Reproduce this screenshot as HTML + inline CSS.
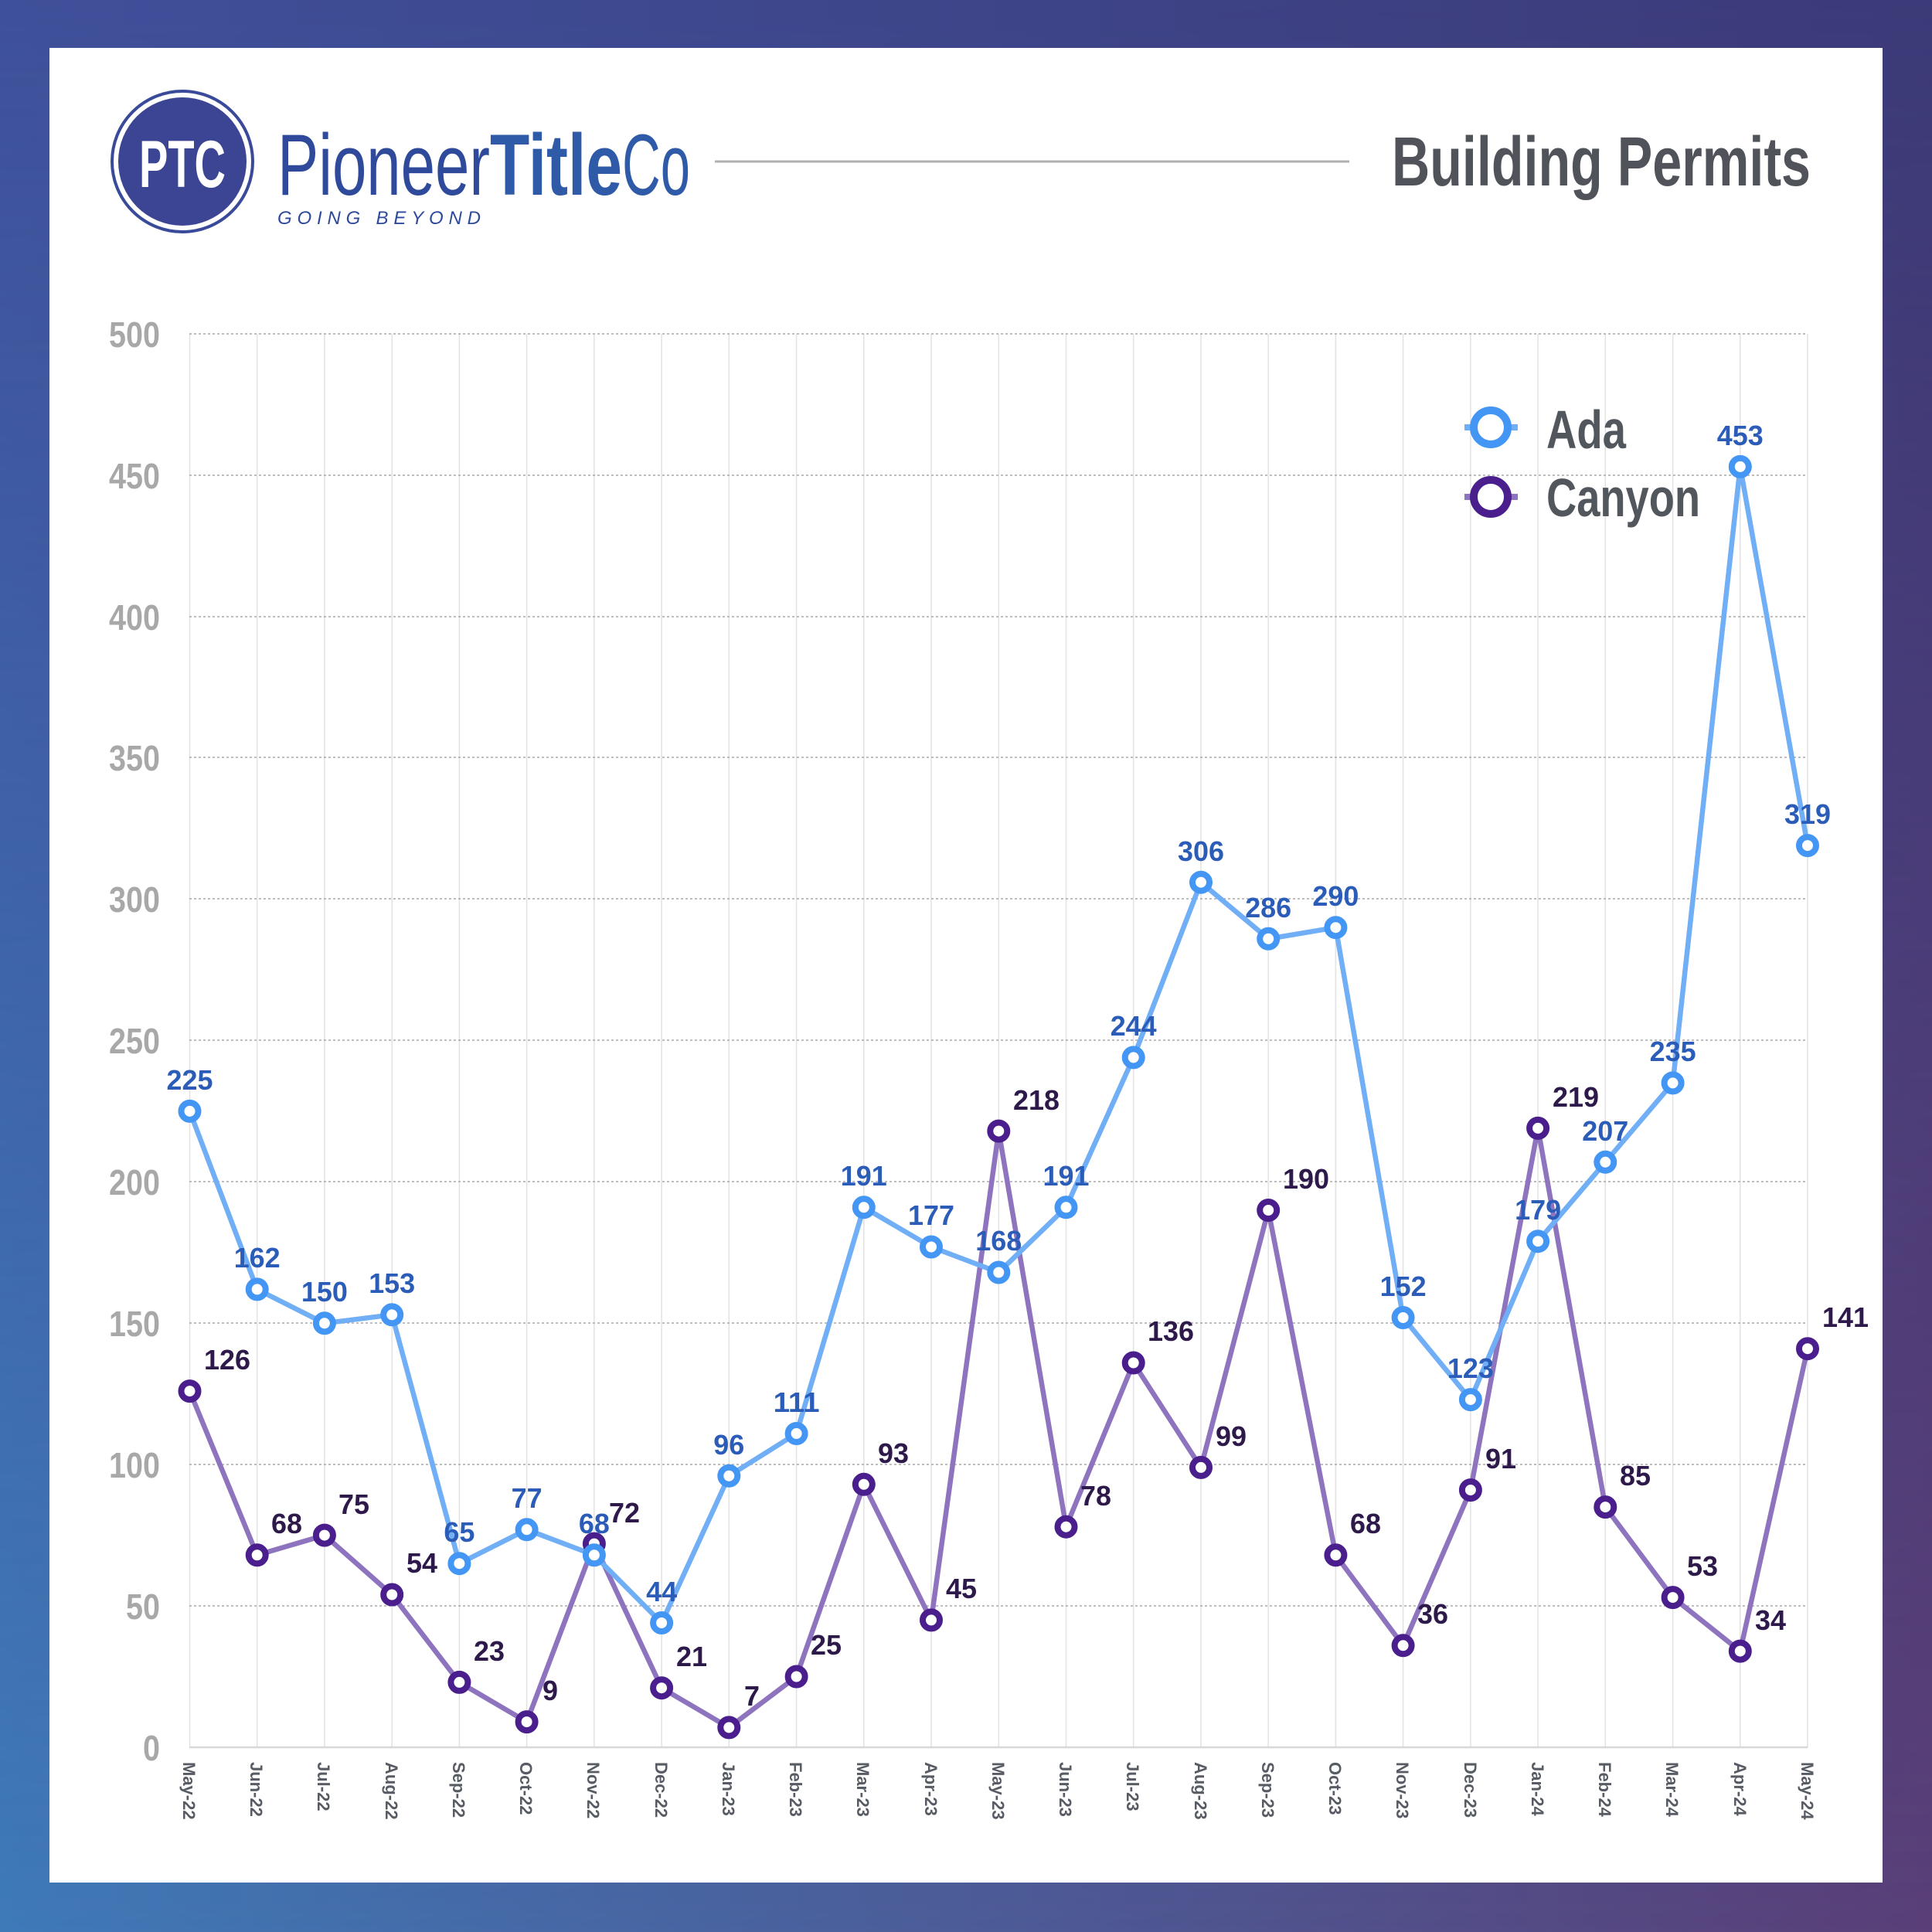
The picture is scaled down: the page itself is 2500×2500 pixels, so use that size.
<!DOCTYPE html>
<html><head><meta charset="utf-8"><style>
html,body{margin:0;padding:0;}
body{width:2500px;height:2500px;overflow:hidden;background:linear-gradient(135deg,#3f4f98 0%,#3d3d7c 50%,#3e78b8 50.01%,#3e78b8 50.02%);}
#bg{position:absolute;left:0;top:0;width:2500px;height:2500px;}
svg{position:absolute;left:0;top:0;}
</style></head><body>
<svg width="2500" height="2500" viewBox="0 0 2500 2500" xmlns="http://www.w3.org/2000/svg">
<defs>
<linearGradient id="g1" x1="0" y1="0" x2="1" y2="0"><stop offset="0" stop-color="#3f509a"/><stop offset="1" stop-color="#3c3a78"/></linearGradient>
<linearGradient id="g2" x1="0" y1="0" x2="1" y2="0"><stop offset="0" stop-color="#3f7ab8"/><stop offset="1" stop-color="#5a3f78"/></linearGradient>
<linearGradient id="gv" x1="0" y1="0" x2="0" y2="1"><stop offset="0" stop-color="#fff" stop-opacity="1"/><stop offset="1" stop-color="#fff" stop-opacity="0"/></linearGradient>
<mask id="m"><rect width="2500" height="2500" fill="url(#gv)"/></mask>
</defs>
<rect width="2500" height="2500" fill="url(#g2)"/>
<rect width="2500" height="2500" fill="url(#g1)" mask="url(#m)"/>
<rect x="64" y="62" width="2372" height="2374" fill="#fff"/>

<!-- header -->
<circle cx="236" cy="209" r="91" fill="none" stroke="#3a4a9a" stroke-width="4"/>
<circle cx="236" cy="209" r="83" fill="#3b4593"/>
<text x="180" y="242" font-family="Liberation Sans, sans-serif" font-weight="bold" font-size="86" fill="#fff" textLength="112" lengthAdjust="spacingAndGlyphs">PTC</text>
<text x="359" y="252" font-family="Liberation Sans, sans-serif" font-size="112" fill="#2f4a9a" textLength="275" lengthAdjust="spacingAndGlyphs">Pioneer</text>
<text x="634" y="252" font-family="Liberation Sans, sans-serif" font-weight="bold" font-size="112" fill="#2e5aa8" textLength="171" lengthAdjust="spacingAndGlyphs">Title</text>
<text x="805" y="252" font-family="Liberation Sans, sans-serif" font-size="112" fill="#2e5aa8" textLength="88" lengthAdjust="spacingAndGlyphs">Co</text>
<text x="359" y="290" font-family="Liberation Sans, sans-serif" font-style="italic" font-size="24" fill="#2f4a9a" textLength="263" lengthAdjust="spacing">GOING  BEYOND</text>
<line x1="925" y1="209" x2="1746" y2="209" stroke="#b0b0b0" stroke-width="3"/>
<text x="1801" y="240" font-family="Liberation Sans, sans-serif" font-weight="bold" font-size="90" fill="#50535a" textLength="542" lengthAdjust="spacingAndGlyphs">Building Permits</text>

<!-- grid -->
<g stroke="#e2e2e2" stroke-width="1.5">
<line x1="245.5" y1="432" x2="245.5" y2="2261"/><line x1="332.7" y1="432" x2="332.7" y2="2261"/><line x1="419.9" y1="432" x2="419.9" y2="2261"/><line x1="507.2" y1="432" x2="507.2" y2="2261"/><line x1="594.4" y1="432" x2="594.4" y2="2261"/><line x1="681.6" y1="432" x2="681.6" y2="2261"/><line x1="768.9" y1="432" x2="768.9" y2="2261"/><line x1="856.1" y1="432" x2="856.1" y2="2261"/><line x1="943.3" y1="432" x2="943.3" y2="2261"/><line x1="1030.6" y1="432" x2="1030.6" y2="2261"/><line x1="1117.8" y1="432" x2="1117.8" y2="2261"/><line x1="1205" y1="432" x2="1205" y2="2261"/><line x1="1292.3" y1="432" x2="1292.3" y2="2261"/><line x1="1379.5" y1="432" x2="1379.5" y2="2261"/><line x1="1466.7" y1="432" x2="1466.7" y2="2261"/><line x1="1554" y1="432" x2="1554" y2="2261"/><line x1="1641.2" y1="432" x2="1641.2" y2="2261"/><line x1="1728.4" y1="432" x2="1728.4" y2="2261"/><line x1="1815.6" y1="432" x2="1815.6" y2="2261"/><line x1="1902.9" y1="432" x2="1902.9" y2="2261"/><line x1="1990.1" y1="432" x2="1990.1" y2="2261"/><line x1="2077.3" y1="432" x2="2077.3" y2="2261"/><line x1="2164.6" y1="432" x2="2164.6" y2="2261"/><line x1="2251.8" y1="432" x2="2251.8" y2="2261"/><line x1="2339" y1="432" x2="2339" y2="2261"/>
</g>
<g stroke="#a8a8a8" stroke-width="1.5" stroke-dasharray="3,3">
<line x1="245" y1="432" x2="2339" y2="432"/><line x1="245" y1="615" x2="2339" y2="615"/><line x1="245" y1="798" x2="2339" y2="798"/><line x1="245" y1="980" x2="2339" y2="980"/><line x1="245" y1="1163" x2="2339" y2="1163"/><line x1="245" y1="1346" x2="2339" y2="1346"/><line x1="245" y1="1529" x2="2339" y2="1529"/><line x1="245" y1="1712" x2="2339" y2="1712"/><line x1="245" y1="1895" x2="2339" y2="1895"/><line x1="245" y1="2078" x2="2339" y2="2078"/>
</g>
<line x1="245" y1="2261" x2="2339" y2="2261" stroke="#d8d8d8" stroke-width="2.5"/>

<!-- y labels -->
<g font-family="Liberation Sans, sans-serif" font-weight="bold" font-size="46" fill="#a8a8a8" text-anchor="end">
<text x="207" y="449" textLength="66" lengthAdjust="spacingAndGlyphs">500</text>
<text x="207" y="632" textLength="66" lengthAdjust="spacingAndGlyphs">450</text>
<text x="207" y="815" textLength="66" lengthAdjust="spacingAndGlyphs">400</text>
<text x="207" y="997" textLength="66" lengthAdjust="spacingAndGlyphs">350</text>
<text x="207" y="1180" textLength="66" lengthAdjust="spacingAndGlyphs">300</text>
<text x="207" y="1363" textLength="66" lengthAdjust="spacingAndGlyphs">250</text>
<text x="207" y="1546" textLength="66" lengthAdjust="spacingAndGlyphs">200</text>
<text x="207" y="1729" textLength="66" lengthAdjust="spacingAndGlyphs">150</text>
<text x="207" y="1912" textLength="66" lengthAdjust="spacingAndGlyphs">100</text>
<text x="207" y="2095" textLength="44" lengthAdjust="spacingAndGlyphs">50</text>
<text x="207" y="2278" textLength="22" lengthAdjust="spacingAndGlyphs">0</text>
</g>

<!-- x labels -->
<g font-family="Liberation Sans, sans-serif" font-weight="bold" font-size="22" fill="#575b63">
<text transform="translate(237,2280) rotate(90)">May-22</text>
<text transform="translate(324,2280) rotate(90)">Jun-22</text>
<text transform="translate(411,2280) rotate(90)">Jul-22</text>
<text transform="translate(499,2280) rotate(90)">Aug-22</text>
<text transform="translate(586,2280) rotate(90)">Sep-22</text>
<text transform="translate(673,2280) rotate(90)">Oct-22</text>
<text transform="translate(760,2280) rotate(90)">Nov-22</text>
<text transform="translate(848,2280) rotate(90)">Dec-22</text>
<text transform="translate(935,2280) rotate(90)">Jan-23</text>
<text transform="translate(1022,2280) rotate(90)">Feb-23</text>
<text transform="translate(1109,2280) rotate(90)">Mar-23</text>
<text transform="translate(1197,2280) rotate(90)">Apr-23</text>
<text transform="translate(1284,2280) rotate(90)">May-23</text>
<text transform="translate(1371,2280) rotate(90)">Jun-23</text>
<text transform="translate(1458,2280) rotate(90)">Jul-23</text>
<text transform="translate(1546,2280) rotate(90)">Aug-23</text>
<text transform="translate(1633,2280) rotate(90)">Sep-23</text>
<text transform="translate(1720,2280) rotate(90)">Oct-23</text>
<text transform="translate(1807,2280) rotate(90)">Nov-23</text>
<text transform="translate(1895,2280) rotate(90)">Dec-23</text>
<text transform="translate(1982,2280) rotate(90)">Jan-24</text>
<text transform="translate(2069,2280) rotate(90)">Feb-24</text>
<text transform="translate(2156,2280) rotate(90)">Mar-24</text>
<text transform="translate(2244,2280) rotate(90)">Apr-24</text>
<text transform="translate(2331,2280) rotate(90)">May-24</text>
</g>

<!-- series lines -->
<polyline fill="none" stroke="#8e74bf" stroke-width="6.5" stroke-linejoin="round" points="245.5,1800.1 332.7,2012.3 419.9,1986.6 507.2,2063.5 594.4,2176.9 681.6,2228.1 768.9,1997.6 856.1,2184.2 943.3,2235.4 1030.6,2169.5 1117.8,1920.8 1205,2096.4 1292.3,1463.6 1379.5,1975.7 1466.7,1763.5 1554,1898.9 1641.2,1566 1728.4,2012.3 1815.6,2129.3 1902.9,1928.1 1990.1,1459.9 2077.3,1950.1 2164.6,2067.1 2251.8,2136.6 2339,1745.2"/>
<polyline fill="none" stroke="#70aef5" stroke-width="6.5" stroke-linejoin="round" points="245.5,1437.9 332.7,1668.4 419.9,1712.3 507.2,1701.3 594.4,2023.2 681.6,1979.3 768.9,2012.3 856.1,2100 943.3,1909.8 1030.6,1855 1117.8,1562.3 1205,1613.5 1292.3,1646.5 1379.5,1562.3 1466.7,1368.4 1554,1141.7 1641.2,1214.8 1728.4,1200.2 1815.6,1705 1902.9,1811.1 1990.1,1606.2 2077.3,1503.8 2164.6,1401.4 2251.8,603.9 2339,1094.1"/>

<!-- canyon markers -->
<g fill="#fff" stroke="#4a1e8c" stroke-width="8">
<circle cx="245.5" cy="1800.1" r="11"/><circle cx="332.7" cy="2012.3" r="11"/><circle cx="419.9" cy="1986.6" r="11"/><circle cx="507.2" cy="2063.5" r="11"/><circle cx="594.4" cy="2176.9" r="11"/><circle cx="681.6" cy="2228.1" r="11"/><circle cx="768.9" cy="1997.6" r="11"/><circle cx="856.1" cy="2184.2" r="11"/><circle cx="943.3" cy="2235.4" r="11"/><circle cx="1030.6" cy="2169.5" r="11"/><circle cx="1117.8" cy="1920.8" r="11"/><circle cx="1205" cy="2096.4" r="11"/><circle cx="1292.3" cy="1463.6" r="11"/><circle cx="1379.5" cy="1975.7" r="11"/><circle cx="1466.7" cy="1763.5" r="11"/><circle cx="1554" cy="1898.9" r="11"/><circle cx="1641.2" cy="1566" r="11"/><circle cx="1728.4" cy="2012.3" r="11"/><circle cx="1815.6" cy="2129.3" r="11"/><circle cx="1902.9" cy="1928.1" r="11"/><circle cx="1990.1" cy="1459.9" r="11"/><circle cx="2077.3" cy="1950.1" r="11"/><circle cx="2164.6" cy="2067.1" r="11"/><circle cx="2251.8" cy="2136.6" r="11"/><circle cx="2339" cy="1745.2" r="11"/>
</g>
<!-- ada markers -->
<g fill="#fff" stroke="#4496f5" stroke-width="8">
<circle cx="245.5" cy="1437.9" r="11"/><circle cx="332.7" cy="1668.4" r="11"/><circle cx="419.9" cy="1712.3" r="11"/><circle cx="507.2" cy="1701.3" r="11"/><circle cx="594.4" cy="2023.2" r="11"/><circle cx="681.6" cy="1979.3" r="11"/><circle cx="768.9" cy="2012.3" r="11"/><circle cx="856.1" cy="2100" r="11"/><circle cx="943.3" cy="1909.8" r="11"/><circle cx="1030.6" cy="1855" r="11"/><circle cx="1117.8" cy="1562.3" r="11"/><circle cx="1205" cy="1613.5" r="11"/><circle cx="1292.3" cy="1646.5" r="11"/><circle cx="1379.5" cy="1562.3" r="11"/><circle cx="1466.7" cy="1368.4" r="11"/><circle cx="1554" cy="1141.7" r="11"/><circle cx="1641.2" cy="1214.8" r="11"/><circle cx="1728.4" cy="1200.2" r="11"/><circle cx="1815.6" cy="1705" r="11"/><circle cx="1902.9" cy="1811.1" r="11"/><circle cx="1990.1" cy="1606.2" r="11"/><circle cx="2077.3" cy="1503.8" r="11"/><circle cx="2164.6" cy="1401.4" r="11"/><circle cx="2251.8" cy="603.9" r="11"/><circle cx="2339" cy="1094.1" r="11"/>
</g>

<!-- canyon labels -->
<g font-family="Liberation Sans, sans-serif" font-weight="bold" font-size="36" fill="#2e1a4a" lengthAdjust="spacingAndGlyphs">
<text x="264" y="1772" textLength="60" lengthAdjust="spacingAndGlyphs">126</text>
<text x="351" y="1984" textLength="40" lengthAdjust="spacingAndGlyphs">68</text>
<text x="438" y="1959" textLength="40" lengthAdjust="spacingAndGlyphs">75</text>
<text x="526" y="2035" textLength="40" lengthAdjust="spacingAndGlyphs">54</text>
<text x="613" y="2149" textLength="40" lengthAdjust="spacingAndGlyphs">23</text>
<text x="702" y="2200" textLength="20" lengthAdjust="spacingAndGlyphs">9</text>
<text x="788" y="1970" textLength="40" lengthAdjust="spacingAndGlyphs">72</text>
<text x="875" y="2156" textLength="40" lengthAdjust="spacingAndGlyphs">21</text>
<text x="963" y="2207" textLength="20" lengthAdjust="spacingAndGlyphs">7</text>
<text x="1049" y="2141" textLength="40" lengthAdjust="spacingAndGlyphs">25</text>
<text x="1136" y="1893" textLength="40" lengthAdjust="spacingAndGlyphs">93</text>
<text x="1224" y="2068" textLength="40" lengthAdjust="spacingAndGlyphs">45</text>
<text x="1311" y="1436" textLength="60" lengthAdjust="spacingAndGlyphs">218</text>
<text x="1398" y="1948" textLength="40" lengthAdjust="spacingAndGlyphs">78</text>
<text x="1485" y="1735" textLength="60" lengthAdjust="spacingAndGlyphs">136</text>
<text x="1573" y="1871" textLength="40" lengthAdjust="spacingAndGlyphs">99</text>
<text x="1660" y="1538" textLength="60" lengthAdjust="spacingAndGlyphs">190</text>
<text x="1747" y="1984" textLength="40" lengthAdjust="spacingAndGlyphs">68</text>
<text x="1834" y="2101" textLength="40" lengthAdjust="spacingAndGlyphs">36</text>
<text x="1922" y="1900" textLength="40" lengthAdjust="spacingAndGlyphs">91</text>
<text x="2009" y="1432" textLength="60" lengthAdjust="spacingAndGlyphs">219</text>
<text x="2096" y="1922" textLength="40" lengthAdjust="spacingAndGlyphs">85</text>
<text x="2183" y="2039" textLength="40" lengthAdjust="spacingAndGlyphs">53</text>
<text x="2271" y="2109" textLength="40" lengthAdjust="spacingAndGlyphs">34</text>
<text x="2358" y="1717" textLength="60" lengthAdjust="spacingAndGlyphs">141</text>
</g>
<!-- ada labels -->
<g font-family="Liberation Sans, sans-serif" font-weight="bold" font-size="36" fill="#2a5cb8" text-anchor="middle">
<text x="245.5" y="1410" textLength="60" lengthAdjust="spacingAndGlyphs">225</text>
<text x="332.7" y="1640" textLength="60" lengthAdjust="spacingAndGlyphs">162</text>
<text x="419.9" y="1684" textLength="60" lengthAdjust="spacingAndGlyphs">150</text>
<text x="507.2" y="1673" textLength="60" lengthAdjust="spacingAndGlyphs">153</text>
<text x="594.4" y="1995" textLength="40" lengthAdjust="spacingAndGlyphs">65</text>
<text x="681.6" y="1951" textLength="40" lengthAdjust="spacingAndGlyphs">77</text>
<text x="768.9" y="1984" textLength="40" lengthAdjust="spacingAndGlyphs">68</text>
<text x="856.1" y="2072" textLength="40" lengthAdjust="spacingAndGlyphs">44</text>
<text x="943.3" y="1882" textLength="40" lengthAdjust="spacingAndGlyphs">96</text>
<text x="1030.6" y="1827" textLength="60" lengthAdjust="spacingAndGlyphs">111</text>
<text x="1117.8" y="1534" textLength="60" lengthAdjust="spacingAndGlyphs">191</text>
<text x="1205" y="1585" textLength="60" lengthAdjust="spacingAndGlyphs">177</text>
<text x="1292.3" y="1618" textLength="60" lengthAdjust="spacingAndGlyphs">168</text>
<text x="1379.5" y="1534" textLength="60" lengthAdjust="spacingAndGlyphs">191</text>
<text x="1466.7" y="1340" textLength="60" lengthAdjust="spacingAndGlyphs">244</text>
<text x="1554" y="1114" textLength="60" lengthAdjust="spacingAndGlyphs">306</text>
<text x="1641.2" y="1187" textLength="60" lengthAdjust="spacingAndGlyphs">286</text>
<text x="1728.4" y="1172" textLength="60" lengthAdjust="spacingAndGlyphs">290</text>
<text x="1815.6" y="1677" textLength="60" lengthAdjust="spacingAndGlyphs">152</text>
<text x="1902.9" y="1783" textLength="60" lengthAdjust="spacingAndGlyphs">123</text>
<text x="1990.1" y="1578" textLength="60" lengthAdjust="spacingAndGlyphs">179</text>
<text x="2077.3" y="1476" textLength="60" lengthAdjust="spacingAndGlyphs">207</text>
<text x="2164.6" y="1373" textLength="60" lengthAdjust="spacingAndGlyphs">235</text>
<text x="2251.8" y="576" textLength="60" lengthAdjust="spacingAndGlyphs">453</text>
<text x="2339" y="1066" textLength="60" lengthAdjust="spacingAndGlyphs">319</text>
</g>

<!-- legend -->
<line x1="1895" y1="553" x2="1964" y2="553" stroke="#70aef5" stroke-width="8"/>
<circle cx="1929" cy="553" r="22" fill="#fff" stroke="#4496f5" stroke-width="10"/>
<line x1="1895" y1="643" x2="1964" y2="643" stroke="#8e74bf" stroke-width="8"/>
<circle cx="1929" cy="643" r="22" fill="#fff" stroke="#4a1e8c" stroke-width="10"/>
<g font-family="Liberation Sans, sans-serif" font-weight="bold" font-size="70" fill="#52565d">
<text x="2001" y="580" textLength="103" lengthAdjust="spacingAndGlyphs">Ada</text>
<text x="2001" y="668" textLength="199" lengthAdjust="spacingAndGlyphs">Canyon</text>
</g>
</svg>
</body></html>
